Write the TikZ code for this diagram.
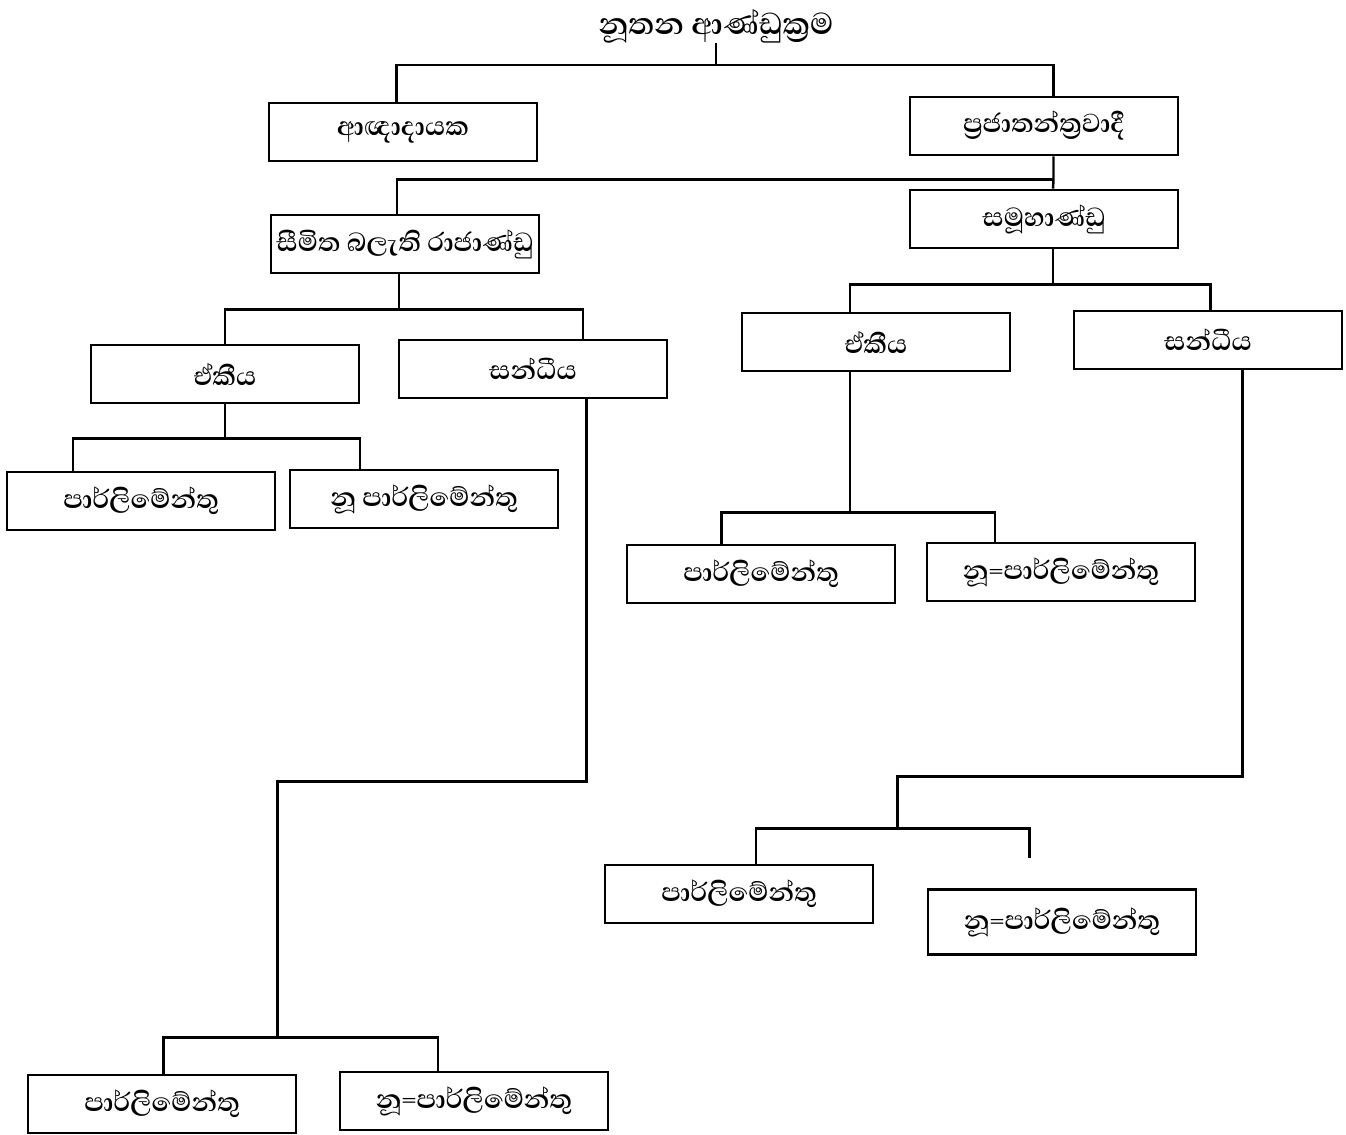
\documentclass[tikz,border=0pt]{standalone}
\usepackage{fontspec}
\newfontfamily\sinfont[Script=Sinhala]{Abhaya Libre}
\begin{document}
\begin{tikzpicture}
[x=0.02cm,y=-0.02cm,%
 linestyle/.style={line width=1.4pt},%
 boxstyle/.style={draw,line width=1.5pt,minimum width=5.36cm,minimum height=1.16cm,%
   inner sep=0pt,font=\sinfont\bfseries\fontsize{19}{21}\selectfont},%
 titlestyle/.style={inner sep=0pt,font=\sinfont\bfseries\fontsize{22}{24}\selectfont}]
\useasboundingbox (0,0) rectangle (1346,1135);
%% root and first level
\node[titlestyle] (root) at (716,26) {නූතන ආණ්ඩුක්^^^^200dරම};
\node[boxstyle] (agna) at (403,132) {ආඥාදායක};
\node[boxstyle] (praja) at (1044,126) {ප්^^^^200dරජාතන්ත්^^^^200dරවාදී};
%% second level
\node[boxstyle] (seema) at (405,244) {සීමිත බලැති රාජාණ්ඩු};
\node[boxstyle] (samuha) at (1044,219) {සමූහාණ්ඩු};
%% third level
\node[boxstyle] (ekiyaL) at (225,374) {ඒකීය};
\node[boxstyle] (sandL) at (533,369) {සන්ධීය};
\node[boxstyle] (ekiyaR) at (876,342) {ඒකීය};
\node[boxstyle] (sandR) at (1208,340) {සන්ධීය};
%% fourth level
\node[boxstyle] (parlA) at (141,501) {පාර්ලිමේන්තු};
\node[boxstyle] (nonA) at (424,499) {නූ පාර්ලිමේන්තු};
\node[boxstyle] (parlB) at (761,574) {පාර්ලිමේන්තු};
\node[boxstyle] (nonB) at (1061,572) {නූ=පාර්ලිමේන්තු};
\node[boxstyle] (parlC) at (739,894) {පාර්ලිමේන්තු};
\node[boxstyle,minimum height=1.3cm] (nonC) at (1062,922) {නූ=පාර්ලිමේන්තු};
\node[boxstyle] (parlD) at (162,1104) {පාර්ලිමේන්තු};
\node[boxstyle] (nonD) at (474,1101) {නූ=පාර්ලිමේන්තු};
%% connectors
\coordinate (j0) at (716,65);
\draw[linestyle] (root.south) -- (j0);
\draw[linestyle] ([xshift=-0.13cm]agna.north) |- (j0) -| ([xshift=0.19cm]praja.north);
\draw[linestyle] ([xshift=0.19cm]praja.south) -- ++(0,23) coordinate (j1)
  -- ([xshift=0.18cm]samuha.north);
\draw[linestyle] ([xshift=-0.16cm]seema.north) |- (j1);
\draw[linestyle] ([xshift=0.18cm]samuha.south) -- ++(0,35) coordinate (j2);
\draw[linestyle] ([xshift=-0.52cm]ekiyaR.north) |- (j2) -| ([xshift=0.05cm]sandR.north);
\draw[linestyle] ([xshift=-0.12cm]seema.south) -- ++(0,35) coordinate (j3);
\draw[linestyle] (ekiyaL.north) |- (j3) -| ([xshift=1.0cm]sandL.north);
\draw[linestyle] (ekiyaL.south) -- ++(0,34) coordinate (j4);
\draw[linestyle] ([xshift=-1.36cm]parlA.north) |- (j4) -| ([xshift=-1.28cm]nonA.north);
\draw[linestyle] ([xshift=1.07cm]sandL.south) -- ++(0,382) -| ++(-309,256) coordinate (j5);
\draw[linestyle] ([xshift=0.03cm]parlD.north) |- (j5) -| ([xshift=-0.72cm]nonD.north);
\draw[linestyle] ([xshift=-0.52cm]ekiyaR.south) -- ++(0,140) coordinate (j6);
\draw[linestyle] ([xshift=-0.79cm]parlB.north) |- (j6) -| ([xshift=-1.32cm]nonB.north);
\draw[linestyle] ([xshift=0.69cm]sandR.south) -- ++(0,406) -| ++(-345,52) coordinate (j7);
\draw[linestyle] ([xshift=0.34cm]parlC.north) |- (j7)
  -| ([xshift=-0.65cm,yshift=0.6cm]nonC.north);
\end{tikzpicture}
\end{document}
